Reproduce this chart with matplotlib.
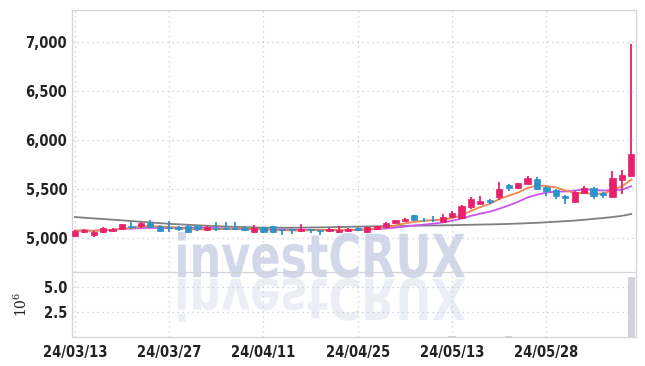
import numpy as np
import pandas as pd
import matplotlib
matplotlib.use('Agg')
import matplotlib.pyplot as plt
from matplotlib.textpath import TextPath
from matplotlib.patches import PathPatch
from matplotlib.font_manager import FontProperties
from matplotlib.transforms import Affine2D, IdentityTransform
from matplotlib.ticker import FuncFormatter

# trading days (yy/mm/dd)
dates = ['24/03/13', '24/03/14', '24/03/15', '24/03/18', '24/03/19', '24/03/20', '24/03/21', '24/03/22',
         '24/03/25', '24/03/26', '24/03/27', '24/03/28', '24/03/29', '24/04/01', '24/04/02', '24/04/03',
         '24/04/04', '24/04/05', '24/04/08', '24/04/09', '24/04/11', '24/04/12', '24/04/15', '24/04/16',
         '24/04/17', '24/04/18', '24/04/19', '24/04/22', '24/04/23', '24/04/24', '24/04/25', '24/04/26',
         '24/04/29', '24/04/30', '24/05/02', '24/05/03', '24/05/07', '24/05/08', '24/05/09', '24/05/10',
         '24/05/13', '24/05/14', '24/05/16', '24/05/17', '24/05/20', '24/05/21', '24/05/22', '24/05/23',
         '24/05/24', '24/05/27', '24/05/28', '24/05/29', '24/05/30', '24/05/31', '24/06/03', '24/06/04',
         '24/06/05', '24/06/07', '24/06/10', '24/06/11']

opens = [5020, 5060, 5030, 5065, 5075, 5095, 5120, 5120, 5150, 5120,
         5115, 5110, 5120, 5120, 5080, 5105, 5105, 5100, 5100, 5060,
         5110, 5120, 5085, 5085, 5070, 5085, 5080, 5070, 5060, 5070,
         5100, 5060, 5090, 5115, 5150, 5170, 5230, 5185, 5185, 5160,
         5210, 5200, 5320, 5350, 5390, 5420, 5540, 5510, 5550, 5600,
         5520, 5490, 5430, 5370, 5460, 5510, 5460, 5420, 5590, 5630]
highs = [5085, 5090, 5070, 5110, 5100, 5145, 5160, 5160, 5180, 5130,
         5170, 5125, 5130, 5130, 5120, 5160, 5165, 5160, 5120, 5130,
         5115, 5125, 5095, 5090, 5140, 5095, 5085, 5100, 5120, 5100,
         5110, 5115, 5125, 5160, 5185, 5200, 5235, 5200, 5225, 5240,
         5275, 5340, 5420, 5430, 5400, 5570, 5550, 5565, 5630, 5620,
         5530, 5500, 5440, 5480, 5530, 5520, 5470, 5680, 5690, 6980]
lows = [5010, 5050, 5015, 5050, 5065, 5085, 5090, 5100, 5100, 5060,
        5060, 5070, 5050, 5070, 5070, 5070, 5080, 5080, 5070, 5050,
        5055, 5050, 5030, 5040, 5060, 5050, 5030, 5065, 5055, 5065,
        5080, 5055, 5085, 5110, 5145, 5165, 5175, 5160, 5165, 5155,
        5200, 5195, 5300, 5345, 5350, 5390, 5480, 5500, 5540, 5490,
        5430, 5400, 5350, 5365, 5455, 5400, 5410, 5410, 5450, 5630]
closes = [5075, 5080, 5065, 5100, 5095, 5140, 5110, 5150, 5115, 5075,
          5105, 5090, 5065, 5090, 5110, 5095, 5095, 5090, 5085, 5105,
          5060, 5065, 5080, 5080, 5090, 5080, 5075, 5090, 5080, 5090,
          5085, 5110, 5120, 5150, 5180, 5190, 5180, 5180, 5180, 5210,
          5260, 5330, 5400, 5380, 5370, 5500, 5510, 5560, 5610, 5500,
          5480, 5430, 5410, 5470, 5510, 5430, 5440, 5610, 5640, 5860]
volumes = [30000] * 40 + [120000] + [30000] * 5 + [110000] + [30000] * 12 + [6000000]
# long moving average
ma_long = [5214, 5207, 5200, 5194, 5187, 5180, 5173, 5166, 5159, 5152,
           5145, 5140, 5135, 5130, 5125, 5121, 5117, 5114, 5111, 5108,
           5106, 5105, 5105, 5105, 5106, 5107, 5108, 5110, 5112, 5114,
           5116, 5118, 5120, 5122, 5124, 5125, 5126, 5127, 5128, 5129,
           5131, 5133, 5135, 5137, 5139, 5141, 5144, 5147, 5151, 5155,
           5160, 5166, 5172, 5178, 5186, 5195, 5204, 5214, 5226, 5245]

up_col = '#e8206e'
down_col = '#2f92c8'
grid_col = '#c8c8dc'
tick_font = FontProperties(family='DejaVu Sans', stretch='condensed', weight='semibold', size=10.5)

df = pd.DataFrame({'open': opens, 'high': highs, 'low': lows, 'close': closes, 'vol': volumes})
ma5 = df['close'].rolling(5, min_periods=1).mean()
ma10 = df['close'].rolling(10, min_periods=1).mean()
x = np.arange(len(df))

fig = plt.figure(figsize=(6.45, 3.66), dpi=100)
ax = fig.add_axes([72 / 645, 1 - 272 / 366, (636 - 72) / 645, (272 - 10) / 366])
axv = fig.add_axes([72 / 645, 1 - 337 / 366, (636 - 72) / 645, (337 - 272) / 366], sharex=ax)

# watermark with reflection
fp = FontProperties(family='DejaVu Sans', weight='bold')
tp = TextPath((0, 0), 'investCRUX', prop=fp, size=50)
ext = tp.get_extents()
sx = (465 - 178) / ext.width
sy = (134 - 88) / ext.height
tr = Affine2D().translate(-ext.x0, -ext.y0).scale(sx, sy).translate(178, 88)
fig.add_artist(PathPatch(tr.transform_path(tp), facecolor='#d2d7ea', edgecolor='none',
                         transform=IdentityTransform(), zorder=-1))
trr = Affine2D().translate(-ext.x0, -ext.y0).scale(sx, -sy * 0.95).translate(178, 88)
fig.add_artist(PathPatch(trr.transform_path(tp), facecolor='#eceef6', edgecolor='none',
                         transform=IdentityTransform(), zorder=-1))

for a in (ax, axv):
    a.set_facecolor('none')
    for s in a.spines.values():
        s.set_color('#d4d4d8')
        s.set_linewidth(0.9)
    a.grid(True, color=grid_col, linestyle=(0, (1, 3)), linewidth=0.9)
    a.tick_params(length=0, colors='#222222')
ax.spines['bottom'].set_visible(False)

# candles
for i, r in df.iterrows():
    c = up_col if r['close'] >= r['open'] else down_col
    ax.vlines(i, r['low'], r['high'], color=c, linewidth=1.3, zorder=3)
    lo = min(r['open'], r['close'])
    h = max(abs(r['close'] - r['open']), 8)
    ax.bar(i, h, bottom=lo, width=0.66, color=c, edgecolor=c, linewidth=0.5, zorder=4)

ax.plot(x, ma_long, color='#808080', linewidth=1.3, zorder=2)
ax.plot(x, ma10, color='#cc55ee', linewidth=1.3, zorder=2)
ax.plot(x, ma5, color='#f0894a', linewidth=1.3, zorder=2)

ax.set_ylim(4653, 7327)
ax.set_yticks([5000, 5500, 6000, 6500, 7000])
ax.yaxis.set_major_formatter(FuncFormatter(lambda v, p: f'{int(v):,}'))
ax.set_xlim(-0.3, 59.5)
ax.set_xticks(x[::10])
plt.setp(ax.get_xticklabels(), visible=False)

axv.bar(x, df['vol'] / 1e6, width=0.8, color='#d2d2da', zorder=3)
axv.set_ylim(0, 6.5)
axv.set_yticks([2.5, 5.0])
axv.yaxis.set_major_formatter(FuncFormatter(lambda v, p: f'{v:.1f}'))
axv.set_ylabel(r'$\mathrm{10^6}$', fontsize=10, color='#222222', labelpad=10,
               math_fontfamily='dejavuserif')
axv.set_xticks(x[::10])
axv.set_xticklabels([dates[i] for i in x[::10]])
axv.tick_params(axis='x', pad=6)

for a in (ax, axv):
    for lab in a.get_xticklabels() + a.get_yticklabels():
        lab.set_fontproperties(tick_font)

fig.savefig('out.png', dpi=100)
